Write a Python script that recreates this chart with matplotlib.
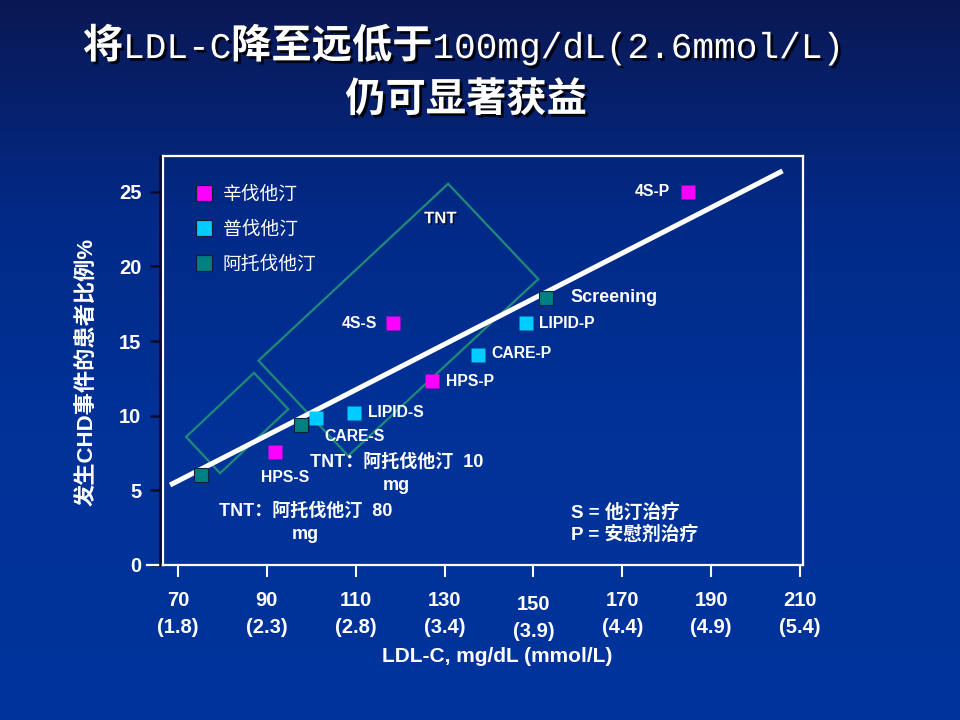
import numpy as np
import matplotlib
matplotlib.use('Agg')
import matplotlib.pyplot as plt
from matplotlib.lines import Line2D
from matplotlib.patches import Polygon
import matplotlib.patheffects as pe
from matplotlib.transforms import ScaledTranslation

# ---- data ----
x_ticks = [70, 90, 110, 130, 150, 170, 190, 210]
x_mmol = ['1.8', '2.3', '2.8', '3.4', '3.9', '4.4', '4.9', '5.4']
y_ticks = [0, 5, 10, 15, 20, 25]

simva_names = ['4S-P', '4S-S', 'HPS-P', 'HPS-S']
simva_x = [184.8, 118.4, 127.2, 91.8]
simva_y = [25.0, 16.2, 12.3, 7.6]

prava_names = ['LIPID-P', 'LIPID-S', 'CARE-P', 'CARE-S']
prava_x = [148.3, 109.6, 137.5, 101.1]
prava_y = [16.2, 10.2, 14.1, 9.85]

atorva_names = ['Screening', 'TNT 10', 'TNT 80']
atorva_x = [152.8, 97.7, 75.2]
atorva_y = [17.9, 9.4, 6.0]

trend_x = [68.2, 206.1]
trend_y = [5.36, 26.4]

# TNT boxes (corners in data units)
tnt_small_x = [71.8, 87.1, 94.8, 79.45]
tnt_small_y = [8.58, 12.87, 10.44, 6.15]
tnt_big_x = [88.1, 130.8, 151.1, 108.3]
tnt_big_y = [13.69, 25.54, 19.15, 7.31]

legend_labels = ['辛伐他汀', '普伐他汀', '阿托伐他汀']
c_simva = '#ff00ff'
c_prava = '#00ccff'
c_atorva = '#008080'

sans = ['Liberation Sans', 'Noto Sans CJK SC']
plt.rcParams['font.family'] = sans

fig = plt.figure(figsize=(9.6, 7.2), dpi=100)

# gradient background
bg = fig.add_axes([0, 0, 1, 1], zorder=-10)
t = np.linspace(0, 1, 300)
stops = [0, 0.3, 0.6, 1]
r = np.interp(t, stops, [10, 2, 0, 0])
g = np.interp(t, stops, [24, 42, 50, 52])
b = np.interp(t, stops, [84, 135, 152, 156])
col = np.stack([r, g, b], axis=1)[:, None, :] / 255.0
grad = np.repeat(col, 10, axis=1)
bg.imshow(grad, aspect='auto', extent=[0, 1, 0, 1])
bg.axis('off')

ax = fig.add_axes([163 / 960, 1 - 565 / 720, 640 / 960, 409 / 720])
ax.set_facecolor('none')
ax.set_xlim(66.6, 210.7)
ax.set_ylim(0, 27.4)

for s in ['top', 'right', 'bottom']:
    ax.spines[s].set_color('white')
    ax.spines[s].set_linewidth(1.6)
ax.spines['left'].set_color('#0a0a30')
ax.spines['left'].set_linewidth(1.8)
ax.spines['left'].set_position(('outward', 2.5))
ax.plot([0, 0], [0, 1], transform=ax.transAxes, color='white', lw=1.6, clip_on=False)
ax.plot([-0.025, 0], [0, 0], transform=ax.transAxes, color='white', lw=1.6, clip_on=False)

ax.set_xticks(x_ticks)
ax.set_xticklabels([f'{a}\n({m})' for a, m in zip(x_ticks, x_mmol)],
                   fontsize=14.5, fontweight='bold', color='white', linespacing=1.55)
ax.tick_params(axis='x', colors='white', length=8.5, width=1.5, pad=10)
ax.set_yticks(y_ticks)
ax.set_yticklabels([str(v) for v in y_ticks], fontsize=14.5, fontweight='bold', color='white')
ax.tick_params(axis='y', color='#0a0a30', length=7, width=1.8, pad=6)
for lbl in ax.get_xticklabels():
    if lbl.get_text().startswith('150'):
        lbl.set_transform(lbl.get_transform() + ScaledTranslation(0, -3 / 72, fig.dpi_scale_trans))

# trend line
ax.plot(trend_x, trend_y, color='white', lw=3.6, solid_capstyle='butt', zorder=3)

# TNT boxes
box_col = '#1f8a78'
ax.add_patch(Polygon(np.column_stack([tnt_small_x, tnt_small_y]), closed=True,
                     fill=False, edgecolor=box_col, lw=1.6, zorder=2))
ax.add_patch(Polygon(np.column_stack([tnt_big_x, tnt_big_y]), closed=True,
                     fill=False, edgecolor=box_col, lw=1.6, zorder=2))

# points
ax.plot(simva_x, simva_y, 's', ms=10, color=c_simva, mec='none', zorder=4)
ax.plot(prava_x, prava_y, 's', ms=10, color=c_prava, mec='none', zorder=4)
ax.plot(atorva_x, atorva_y, 's', ms=10, color=c_atorva, mec='#10203a', mew=0.8, zorder=4)

# point labels
lab_kw = dict(color='white', fontweight='bold', fontsize=11.3, textcoords='offset points', va='center')
offsets = {
    '4S-P': (-13, 0, 'right'), '4S-S': (-11.5, 0, 'right'), 'HPS-P': (10, 0, 'left'),
    'HPS-S': (-10, -19, 'left'), 'LIPID-P': (9.5, 0, 'left'), 'LIPID-S': (10, 0.5, 'left'),
    'CARE-P': (9.5, 0.5, 'left'), 'CARE-S': (5.8, -13.7, 'left'),
}
for names, xs, ys in [(simva_names, simva_x, simva_y), (prava_names, prava_x, prava_y)]:
    for n, x, y in zip(names, xs, ys):
        dx, dy, ha = offsets[n]
        ax.annotate(n, (x, y), xytext=(dx, dy), ha=ha, **lab_kw)

ax.annotate('Screening', (atorva_x[0], atorva_y[0]), xytext=(18, 0), textcoords='offset points',
            ha='left', va='center', color='white', fontweight='bold', fontsize=13)
ax.annotate('TNT：阿托伐他汀  10\nmg', (atorva_x[1], atorva_y[1]), xytext=(68.5, -35.5),
            textcoords='offset points', ha='center', va='center', multialignment='center',
            color='white', fontweight='bold', fontsize=13, linespacing=1.5)
ax.annotate('TNT：阿托伐他汀  80\nmg', (atorva_x[2], atorva_y[2]), xytext=(75, -34),
            textcoords='offset points', ha='center', va='center', multialignment='center',
            color='white', fontweight='bold', fontsize=13, linespacing=1.5)

shadow = [pe.SimplePatchShadow(offset=(1.2, -1.2), shadow_rgbFace='#000010', alpha=0.7), pe.Normal()]
ax.text(129, 23.2, 'TNT', ha='center', va='center', color='white', fontweight='bold',
        fontsize=12, path_effects=shadow, zorder=5)

ax.text(0.6375, 0.1015, 'S = 他汀治疗\nP = 安慰剂治疗', transform=ax.transAxes, ha='left',
        va='center', color='white', fontweight='bold', fontsize=13.5, linespacing=1.25)

# legend
handles = [Line2D([], [], ls='none', marker='s', ms=11, color=c, mec='#10203a', mew=0.9)
           for c in [c_simva, c_prava, c_atorva]]
leg = ax.legend(handles, legend_labels, loc='upper left', bbox_to_anchor=(0.041, 0.945),
                frameon=False, fontsize=13.5, labelcolor='white', labelspacing=0.94,
                handlelength=0.8, handletextpad=0.6, borderaxespad=0)

# axis labels
fig.text(88 / 960, 1 - 372 / 720, '发生CHD事件的患者比例%', rotation=90, ha='center', va='center',
         color='white', fontweight='bold', fontsize=16)
fig.text(497 / 960, 1 - 656 / 720, 'LDL-C, mg/dL (mmol/L)', ha='center', va='center',
         color='white', fontweight='bold', fontsize=15)

# title, mixed fonts
tshadow = [pe.SimplePatchShadow(offset=(2, -2), shadow_rgbFace='#000000', alpha=0.85), pe.Normal()]
cjk = dict(family=['Noto Sans CJK SC'], fontweight='heavy', fontsize=29)
mono = dict(family=['Liberation Mono', 'DejaVu Sans Mono'], fontweight='normal', fontsize=26)
pieces = [('将', cjk), ('LDL-C', mono), ('降至远低于', cjk), ('100mg/dL(2.6mmol/L)', mono)]
renderer = fig.canvas.get_renderer()
texts = []
base_y = 1 - 58 / 720
for s, kw in pieces:
    tt = fig.text(0, base_y, s, color='white', va='baseline', ha='left', path_effects=tshadow, **kw)
    texts.append(tt)
widths = [tt.get_window_extent(renderer).width for tt in texts]
total = sum(widths)
x = (463 - total / 2)
for tt, w in zip(texts, widths):
    tt.set_x(x / 960)
    x += w
fig.text(466 / 960, 1 - 100 / 720, '仍可显著获益', ha='center', va='center', color='white',
         path_effects=tshadow, **cjk)

fig.savefig('out.png', dpi=100)
